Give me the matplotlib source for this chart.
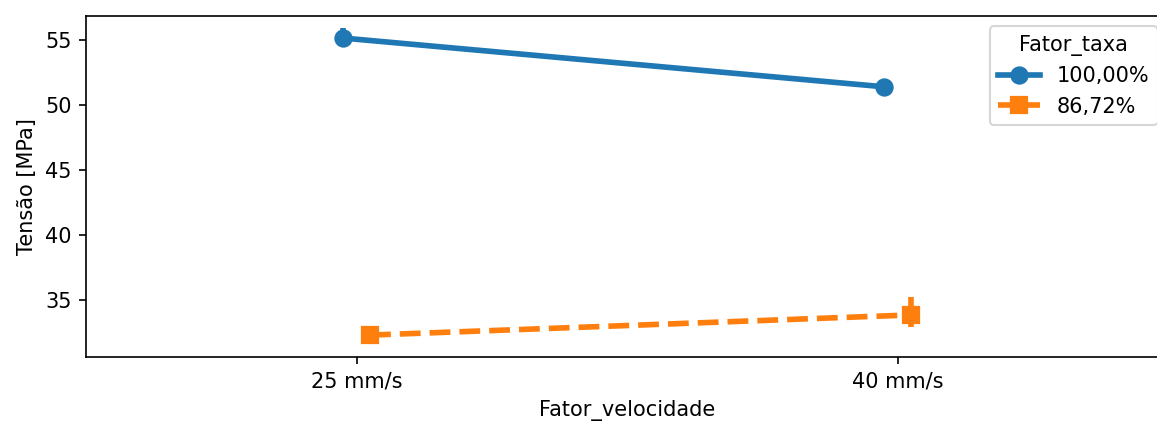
import numpy as np
import matplotlib
matplotlib.use("Agg")
import matplotlib.pyplot as plt

# mean tensile stress per speed level, one series per rate factor
velocidades = ["25 mm/s", "40 mm/s"]
taxas = ["100,00%", "86,72%"]
tensao_100 = [55.15, 51.40]
tensao_8672 = [32.30, 33.85]
# confidence interval bounds (low, high)
ci_100 = [(54.70, 55.95), (51.10, 51.70)]
ci_8672 = [(32.05, 32.55), (32.95, 35.20)]

colors = ["#1f77b4", "#ff7f0e"]
markers = ["o", "s"]
linestyles = ["-", "--"]
dodge = [-0.025, 0.025]

lw = plt.rcParams["lines.linewidth"] * 1.8
ms = lw * np.sqrt(2 * np.pi)
mew = lw * 0.75

fig = plt.figure(figsize=(1157 / 150, 421 / 150), dpi=150)
ax = fig.add_axes([86 / 1157, 64 / 421, (1168 - 86) / 1157, (357 - 16) / 421])

x = np.arange(len(velocidades))
series = [tensao_100, tensao_8672]
cis = [ci_100, ci_8672]

for i, taxa in enumerate(taxas):
    xs = x + dodge[i]
    for xi, (lo, hi) in zip(xs, cis[i]):
        ax.plot([xi, xi], [lo, hi], color=colors[i], lw=lw, solid_capstyle="butt")
    ax.plot(xs, series[i], color=colors[i], lw=lw, ls=linestyles[i],
            marker=markers[i], markersize=ms, markeredgewidth=mew,
            label=taxa)

ax.set_xlim(-0.5, len(velocidades) - 0.5)
ax.set_ylim(30.615, 56.846)
ax.set_xticks(x)
ax.set_xticklabels(velocidades)
ax.set_yticks([35, 40, 45, 50, 55])
ax.set_xlabel("Fator_velocidade")
ax.set_ylabel("Tensão [MPa]")
ax.legend(title="Fator_taxa", loc="upper right")

fig.savefig("out.png", dpi=150)
